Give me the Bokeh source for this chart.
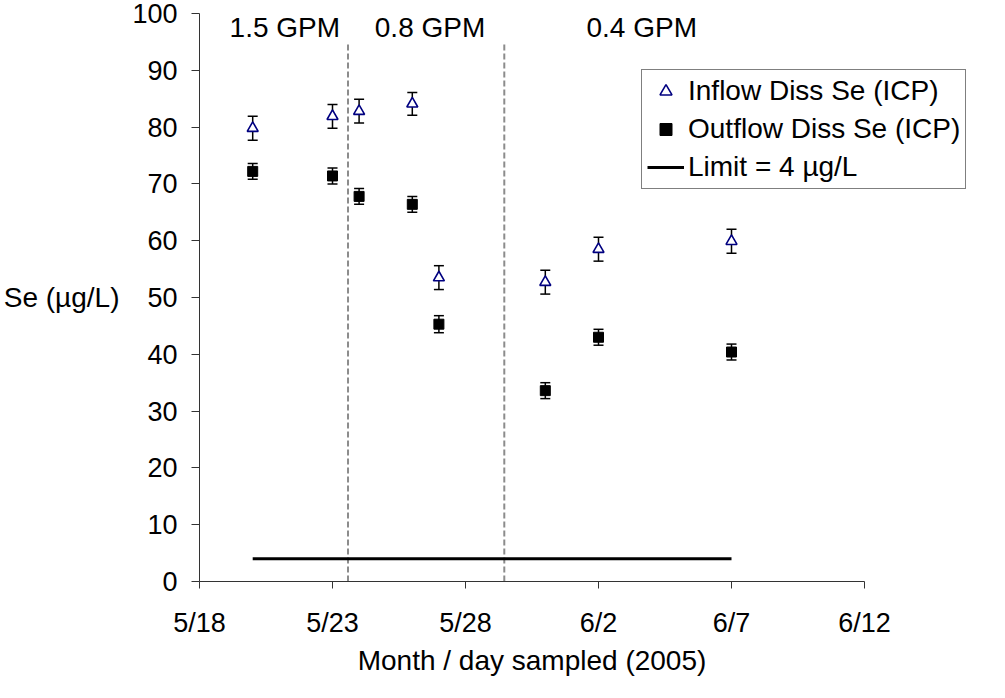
import pandas as pd
from bokeh.plotting import figure
from bokeh.models import (ColumnDataSource, Whisker, TeeHead, FixedTicker,
                          Legend, LegendItem, Label, Title)
from bokeh.embed import file_html
from bokeh.resources import INLINE

# ---------------- data ----------------
sample_dates = ["2005-05-20", "2005-05-23", "2005-05-24", "2005-05-26",
                "2005-05-27", "2005-05-31", "2005-06-02", "2005-06-07"]
inflow_se = [79.8, 81.9, 82.8, 84.1, 53.5, 52.7, 58.5, 59.9]
inflow_err = [2.1, 2.1, 2.1, 2.0, 2.1, 2.1, 2.1, 2.1]
outflow_se = [72.2, 71.4, 67.8, 66.4, 45.3, 33.6, 43.0, 40.4]
outflow_err = [1.4, 1.4, 1.4, 1.4, 1.5, 1.4, 1.4, 1.4]

limit_value = 4
limit_dates = ["2005-05-20", "2005-06-07"]

flow_change_dates = ["2005-05-23 14:00", "2005-05-29 11:00"]
flow_labels = ["1.5 GPM", "0.8 GPM", "0.4 GPM"]
flow_label_dates = ["2005-05-21 05:00", "2005-05-26 16:00", "2005-06-03 15:00"]

tick_dates = ["2005-05-18", "2005-05-23", "2005-05-28",
              "2005-06-02", "2005-06-07", "2005-06-12"]
tick_labels = ["5/18", "5/23", "5/28", "6/2", "6/7", "6/12"]
y_ticks = [0, 10, 20, 30, 40, 50, 60, 70, 80, 90, 100]

series_names = ["Inflow Diss Se (ICP)", "Outflow Diss Se (ICP)", "Limit = 4 \u00b5g/L"]
x_title = "Month / day sampled (2005)"
y_title = "Se (\u00b5g/L)"


def doy(s):
    t = pd.Timestamp(s)
    return t.dayofyear + t.hour / 24.0 + t.minute / 1440.0


FONT = "Liberation Sans"

xs = [doy(d) for d in sample_dates]
tick_pos = [doy(d) for d in tick_dates]

# layout: axis span 665 px; the frame is extended to the right so that the
# legend (which sticks out past the last tick) is not clipped
AXIS_PX = 665
EXTRA_PX = 116
px_per_unit = AXIS_PX / (tick_pos[-1] - tick_pos[0])
x_end = tick_pos[-1] + EXTRA_PX / px_per_unit

src_in = ColumnDataSource(dict(
    x=xs, y=inflow_se,
    lo=[v - e for v, e in zip(inflow_se, inflow_err)],
    hi=[v + e for v, e in zip(inflow_se, inflow_err)]))
src_out = ColumnDataSource(dict(
    x=xs, y=outflow_se,
    lo=[v - e for v, e in zip(outflow_se, outflow_err)],
    hi=[v + e for v, e in zip(outflow_se, outflow_err)]))

p = figure(width=990, height=682, output_backend="svg", toolbar_location=None,
           x_range=(tick_pos[0], x_end), y_range=(y_ticks[0], y_ticks[-1]),
           min_border_left=199, min_border_right=990 - 199 - AXIS_PX - EXTRA_PX,
           min_border_top=13, min_border_bottom=101)
p.outline_line_color = None
p.xgrid.visible = False
p.ygrid.visible = False
p.background_fill_color = "white"
p.border_fill_color = "white"

# flow regime separators
for d in flow_change_dates:
    p.segment(x0=doy(d), y0=0, x1=doy(d), y1=95, line_color="#8c8c8c",
              line_width=2, line_dash="6 3")

# limit line
r_lim = p.line(x=[doy(d) for d in limit_dates], y=[limit_value] * len(limit_dates),
               line_color="black", line_width=3)

# error bars
for src in (src_in, src_out):
    w = Whisker(base="x", lower="lo", upper="hi", source=src, dimension="height",
                line_color="black", line_width=1.5,
                upper_head=TeeHead(size=10, line_color="black", line_width=1.5),
                lower_head=TeeHead(size=10, line_color="black", line_width=1.5))
    p.add_layout(w)

r_in = p.scatter("x", "y", source=src_in, marker="triangle", size=11,
                 fill_color="white", line_color="#000080", line_width=1.6)
r_out = p.scatter("x", "y", source=src_out, marker="square", size=10,
                  fill_color="black", line_color="black")

# regime labels
for txt, d in zip(flow_labels, flow_label_dates):
    p.add_layout(Label(x=doy(d), y=97.6, text=txt, text_align="center",
                       text_baseline="middle", text_font=FONT,
                       text_font_size="28px", text_color="black"))

# axes
for ax in (p.xaxis[0], p.yaxis[0]):
    ax.axis_line_color = "#333333"
    ax.axis_line_width = 1
    ax.major_tick_line_color = "#333333"
    ax.major_tick_in = 0
    ax.minor_tick_line_color = None
    ax.major_label_text_font = FONT
    ax.major_label_text_color = "black"
    ax.axis_label_text_font = FONT
    ax.axis_label_text_font_style = "normal"
    ax.axis_label_text_color = "black"

p.xaxis.bounds = (tick_pos[0], tick_pos[-1])
p.xaxis.ticker = FixedTicker(ticks=tick_pos)
p.xaxis.major_label_overrides = {k: v for k, v in zip(tick_pos, tick_labels)}
p.xaxis.major_tick_out = 7
p.xaxis.major_label_standoff = 19
p.xaxis.major_label_text_font_size = "27px"

# x-axis title, centred under the 5/18 - 6/12 axis span (not the whole frame)
XT_SIZE = 28
xt_width = 12.45 * XT_SIZE  # approximate advance width of the title text
p.add_layout(Title(text=x_title, align="left", offset=AXIS_PX / 2 - xt_width / 2,
                   text_font=FONT, text_font_size=f"{XT_SIZE}px",
                   text_font_style="normal", text_color="black",
                   standoff=4), "below")

p.yaxis.ticker = FixedTicker(ticks=y_ticks)
p.yaxis.major_tick_out = 8
p.yaxis.major_label_standoff = 14
p.yaxis.major_label_text_font_size = "27px"
p.yaxis.axis_label = y_title
p.yaxis.axis_label_orientation = "horizontal"
p.yaxis.axis_label_text_font_size = "28px"
p.yaxis.axis_label_standoff = 10

legend = Legend(items=[LegendItem(label=series_names[0], renderers=[r_in]),
                       LegendItem(label=series_names[1], renderers=[r_out]),
                       LegendItem(label=series_names[2], renderers=[r_lim])],
                location=(442, 392), orientation="vertical",
                label_text_font=FONT, label_text_font_size="28px",
                label_text_color="black",
                border_line_color="black", border_line_width=1,
                background_fill_color="white", background_fill_alpha=1,
                glyph_width=37, glyph_height=30, label_height=30,
                label_standoff=4, spacing=6, padding=5, margin=0)
p.add_layout(legend, "center")

open("out.html", "w").write(file_html(p, INLINE))
